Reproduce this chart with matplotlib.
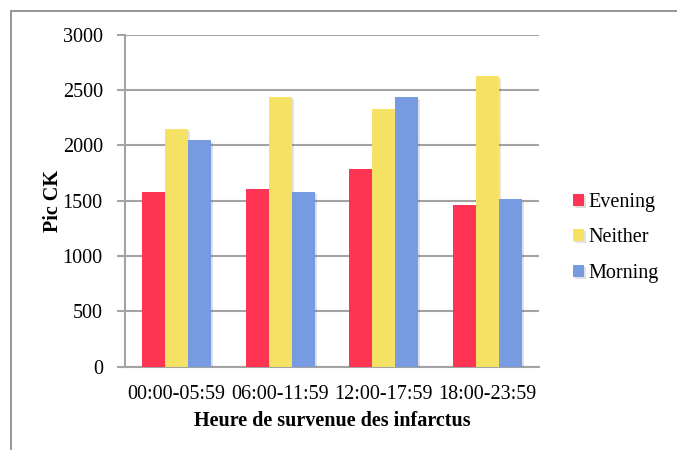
import numpy as np
import matplotlib
matplotlib.use("Agg")
import matplotlib.pyplot as plt
import matplotlib.patheffects as pe
from matplotlib.patches import Rectangle

# CK peak by time of infarct onset
periods = ["00:00-05:59", "06:00-11:59", "12:00-17:59", "18:00-23:59"]
evening = [1575, 1610, 1785, 1465]
neither = [2150, 2440, 2325, 2625]
morning = [2050, 1580, 2440, 1515]

series = [("Evening", evening, "#fe3552"),
          ("Neither", neither, "#f5e264"),
          ("Morning", morning, "#769be0")]

plt.rcParams['font.family'] = ['Liberation Serif', 'DejaVu Serif']
FS = 14.5

fig = plt.figure(figsize=(6.77, 4.5), dpi=100)
# outer frame of the chart area (only left/top edges fall inside the image)
fig.patches.append(Rectangle((11/677, -0.1), 1.2, 1 - 11/450 + 0.1,
                             transform=fig.transFigure, fill=False,
                             edgecolor="#8c8c8c", linewidth=1.3))

ax = fig.add_axes([125/677, 1 - 366.7/450, (539 - 125)/677, (366.7 - 34.7)/450])

x = np.arange(len(periods))
w = 0.222
shadow = [pe.SimplePatchShadow(offset=(1.5, -1.5), alpha=0.15), pe.Normal()]
for k, (name, vals, col) in enumerate(series):
    bars = ax.bar(x + (k - 1) * w, vals, w, color=col, label=name, zorder=3)
    for b in bars:
        b.set_path_effects(shadow)

ax.set_xlim(-0.5, len(periods) - 0.5)
ax.set_ylim(0, 3000)
ax.set_yticks(np.arange(0, 3001, 500))
ax.set_xticks(x)
ax.set_xticklabels(periods)
ax.yaxis.grid(True, color="#a3a3a3", linewidth=1.5, zorder=0)
ax.set_axisbelow(True)

for s in ["top", "right"]:
    ax.spines[s].set_visible(False)
for s in ["left", "bottom"]:
    ax.spines[s].set_color("#a3a3a3")
    ax.spines[s].set_linewidth(1.5)
ax.tick_params(axis="y", length=6, width=1.5, color="#a3a3a3", labelsize=FS, pad=10)
ax.tick_params(axis="x", length=0, labelsize=FS, pad=13)

ax.set_ylabel("Pic CK", fontsize=FS, fontweight="bold", labelpad=0)
ax.set_xlabel("Heure de survenue des infarctus", fontsize=FS, fontweight="bold", labelpad=5)

ax.legend(loc="center left", bbox_to_anchor=(1.057, 0.388), frameon=False,
          fontsize=FS, handlelength=0.55, handleheight=0.55, handletextpad=0.25,
          labelspacing=0.82, borderpad=0)

fig.savefig("out.png", dpi=100)
